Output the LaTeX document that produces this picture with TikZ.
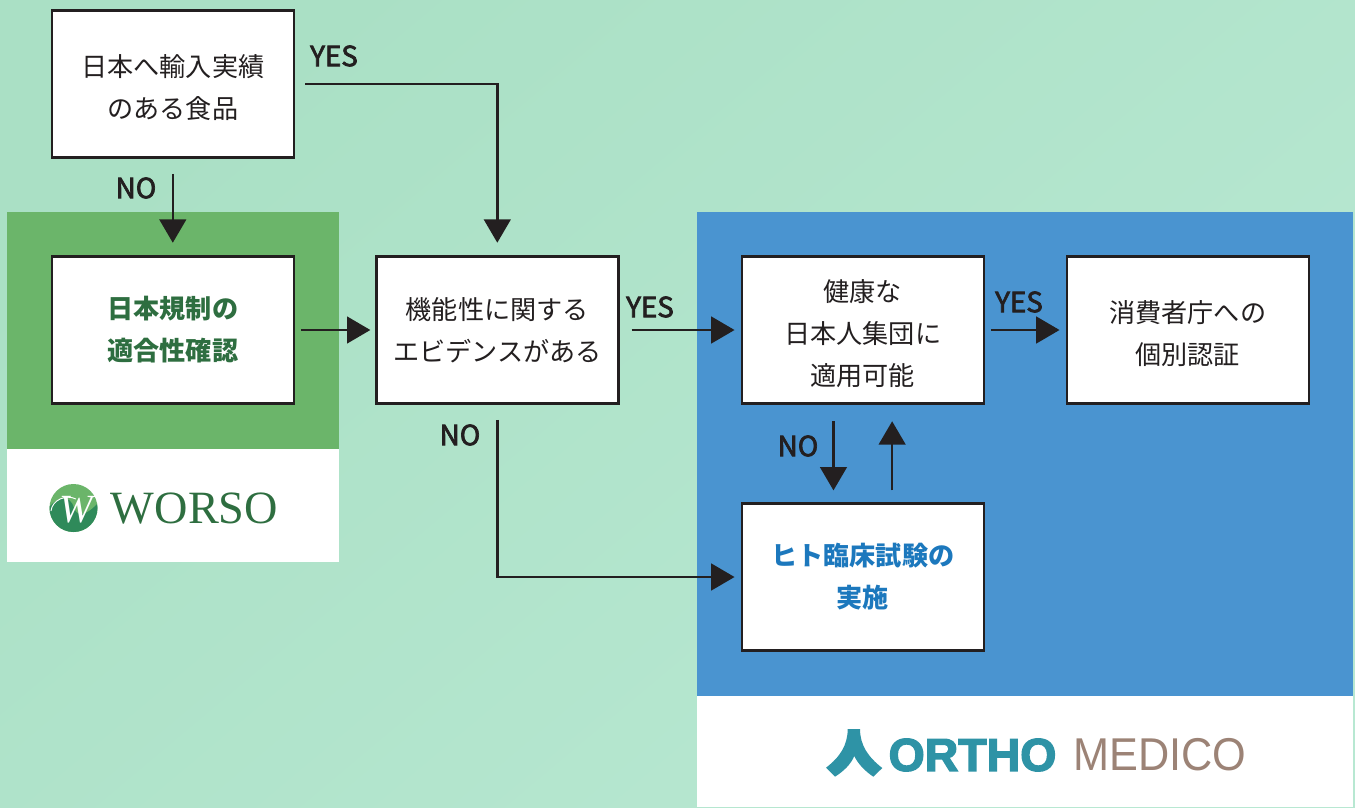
\documentclass[tikz,border=0pt]{standalone}
\usepackage{fontspec}
\usetikzlibrary{arrows.meta,shadings}
\newfontfamily\jpfont{Noto Sans CJK JP}
\newfontfamily\jplabelfont[FakeBold=2.5]{Noto Sans CJK JP}
\newfontfamily\worsofont{Liberation Serif}
\newfontfamily\worsoitalic{Liberation Serif Italic}
\newfontfamily\orthofont[FakeStretch=1.01,FakeBold=3]{Liberation Sans Bold}
\newfontfamily\medicofont[FakeStretch=0.94]{Liberation Sans}
\definecolor{mintdark}{RGB}{170,224,197}
\definecolor{mintlight}{RGB}{184,232,210}
\definecolor{panelgreen}{RGB}{107,181,106}
\definecolor{panelblue}{RGB}{74,148,208}
\definecolor{linedark}{RGB}{35,31,32}
\definecolor{textgreen}{RGB}{46,110,64}
\definecolor{textblue}{RGB}{28,120,189}
\definecolor{logodark}{RGB}{47,138,90}
\definecolor{logoteal}{RGB}{46,147,166}
\definecolor{logobrown}{RGB}{156,131,118}
\newcommand{\textnudge}[1]{\rule{0pt}{#1}}
\tikzset{
  flowbox/.style={draw=linedark,line width=1.9pt,fill=white,minimum width=181.5pt,minimum height=110pt,inner sep=0pt,align=center,text=linedark,
    font=\jpfont\fontsize{19.6}{31.5}\selectfont},
  flowlabel/.style={inner sep=0pt,text=linedark,font=\jplabelfont\fontsize{20.8}{22}\selectfont},
  flowline/.style={draw=linedark,line width=1.8pt,-{Triangle[width=20pt,length=17.5pt]}},
}
\begin{document}
\begin{tikzpicture}[x=0.75pt,y=0.75pt,yscale=-1,xscale=1]
\useasboundingbox (0,0) rectangle (1355,807);

% Background and panels
\shade [shading=axis,top color=mintdark,bottom color=mintlight,shading angle=40] (0,0) rectangle (1355,807);
\fill [panelgreen] (7,212) rectangle (339,449);
\fill [white] (7,449) rectangle (339,562);
\fill [panelblue] (697,212) rectangle (1353,696);
\fill [white] (697,696) rectangle (1353,807);

% Boxes
\node [flowbox] (importbox) at (172.8,84) {\textnudge{22pt}日本へ輸入実績\\のある食品};
\node [flowbox] (rulebox) at (172.8,330) {\textcolor{textgreen}{\bfseries 日本規制の}\\\textcolor{textgreen}{\bfseries 適合性確認}};
\node [flowbox] (evidbox) at (497.3,330) {機能性に関する\\エビデンスがある};
\node [flowbox] (healthbox) at (862.8,330) {\textnudge{22pt}健康な\\日本人集団に\\適用可能};
\node [flowbox] (agencybox) at (1187.8,330) {\textnudge{22pt}消費者庁への\\個別認証};
\node [flowbox] (trialbox) at (862.8,577) {\textcolor{textblue}{\bfseries ヒト臨床試験の}\\\textcolor{textblue}{\bfseries 実施}};

% Connectors
\draw [flowline,shorten <=7.5pt,shorten >=9.5pt] (importbox.east) -| (evidbox.north);
\draw [flowline,shorten <=11.5pt,shorten >=9.5pt] (importbox.south) -- (rulebox.north);
\draw [flowline,shorten <=4.5pt,shorten >=3.5pt] (rulebox.east) -- (evidbox.west);
\draw [flowline,shorten <=9pt,shorten >=4.5pt] (evidbox.east) -- (healthbox.west);
\draw [flowline,shorten <=4.5pt,shorten >=4.5pt] (healthbox.east) -- (agencybox.west);
\draw [flowline,shorten <=11.5pt,shorten >=4.5pt] (evidbox.south) |- (trialbox.west);
\draw [flowline,shorten <=12.5pt,shorten >=9pt] ([xshift=-22pt]healthbox.south) -- ([xshift=-22pt]trialbox.north);
\draw [flowline,shorten <=9pt,shorten >=12.5pt] ([xshift=22pt]trialbox.north) -- ([xshift=22pt]healthbox.south);

% Labels
\node [flowlabel] (yesone) at (334,56) {YES};
\node [flowlabel] (noone) at (136,188) {NO};
\node [flowlabel] (yestwo) at (650,307) {YES};
\node [flowlabel] (notwo) at (460,435) {NO};
\node [flowlabel] (yesthree) at (1019,302) {YES};
\node [flowlabel] (nothree) at (798,446) {NO};

% WORSO logo
\begin{scope}
\clip (73.5,508) circle [radius=24];
\fill [panelgreen] (49,483) rectangle (98,533);
\fill [logodark] (49,507) .. controls (58,497) and (70,494) .. (74,508) .. controls (78,520) and (90,512) .. (98,503) -- (98,533) -- (49,533) -- cycle;
\draw [white,line width=0.7pt] (76,499) .. controls (66,494) and (52,500) .. (51,511);
\end{scope}
\node [text=white,inner sep=0pt,font=\worsoitalic\fontsize{30}{30}\selectfont] (worsomark) at (76,510) {W};
\node [text=textgreen,inner sep=0pt,font=\worsofont\fontsize{34.7}{36}\selectfont] (worsoname) at (194.5,509) {WORSO};

% ORTHO MEDICO logo
\fill [logoteal] (847.7,729) -- (860,729) .. controls (860,745) and (868,757) .. (882.3,768) -- (873.3,776.7) .. controls (865,771) and (858,764) .. (854.3,756) .. controls (851,764) and (844,771) .. (835,776.7) -- (826,767.7) .. controls (840,757) and (847.7,745) .. (847.7,729) -- cycle;
\node [text=logoteal,inner sep=0pt,font=\orthofont\fontsize{34.5}{36}\selectfont] (orthoname) at (972.5,755) {ORTHO};
\node [text=logobrown,inner sep=0pt,font=\medicofont\fontsize{34.5}{36}\selectfont] (mediconame) at (1160,755) {MEDICO};

\end{tikzpicture}
\end{document}
